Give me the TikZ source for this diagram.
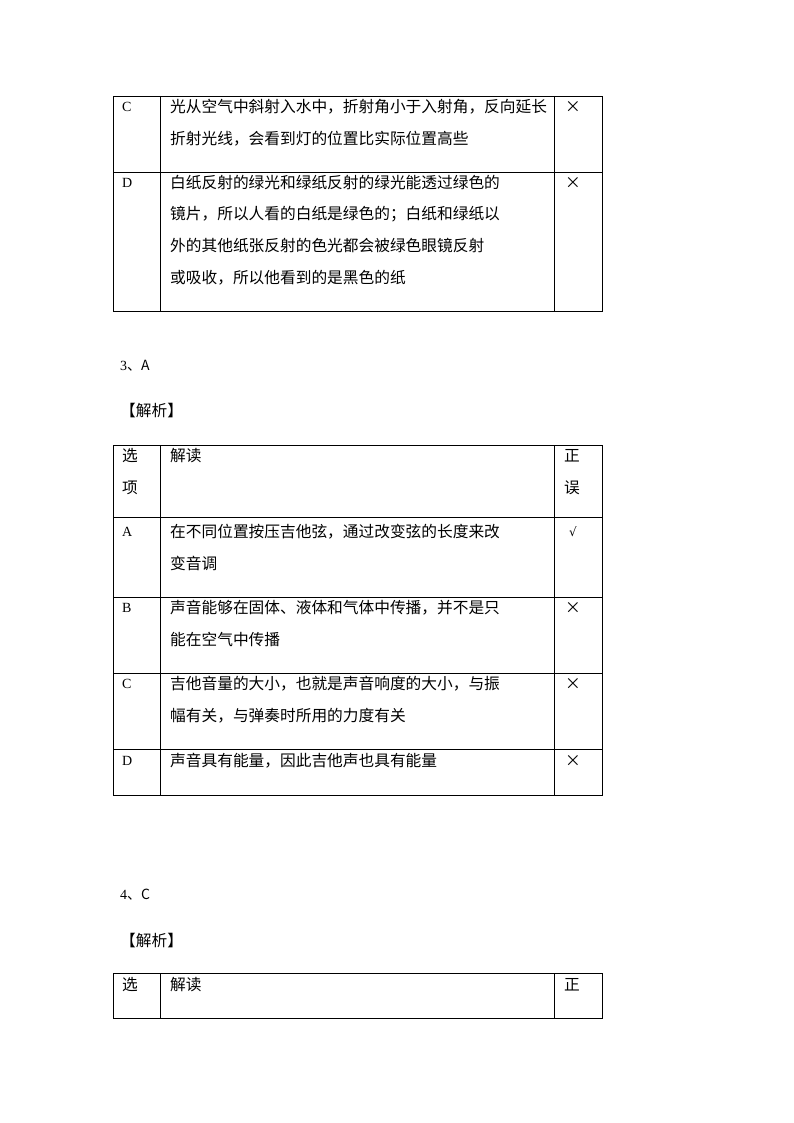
\documentclass[tikz,border=0pt]{standalone}
\usepackage{fontspec}
\setmainfont{Liberation Serif}
\newfontfamily\cjk{Noto Sans CJK SC}
\newfontfamily\dv{DejaVu Sans}
\begin{document}
\begin{tikzpicture}[x=1pt,y=-1pt,
  tl/.style={anchor=west,inner sep=0pt,font=\cjk\fontsize{15.7}{17}\selectfont},
  ll/.style={anchor=west,inner sep=0pt,font=\fontsize{14}{16}\selectfont},
  rule/.style={line width=0.7pt,black}]
\useasboundingbox (0,0) rectangle (794,1123);
% table 1
\draw[rule] (113,96) rectangle (602,311);
\draw[rule] (160,96)--(160,311) (554,96)--(554,311) (113,172)--(602,172);
\node[ll] (c1) at (122,107) {C};
\node[tl] (c1a) at (170,107) {光从空气中斜射入水中，折射角小于入射角，反向延长};
\node[tl] (c1b) at (170,139) {折射光线，会看到灯的位置比实际位置高些};
\node[tl] (c1x) at (565,107) {×};
\node[ll] (d1) at (122,183) {D};
\node[tl] (d1a) at (170,183) {白纸反射的绿光和绿纸反射的绿光能透过绿色的};
\node[tl] (d1b) at (170,214) {镜片，所以人看的白纸是绿色的；白纸和绿纸以};
\node[tl] (d1c) at (170,246) {外的其他纸张反射的色光都会被绿色眼镜反射};
\node[tl] (d1d) at (170,278) {或吸收，所以他看到的是黑色的纸};
\node[tl] (d1x) at (565,183) {×};
% section 3
\node[ll] (s3) at (120,366) {3\cjk{、}A};
\node[tl] (j3) at (120,411) {【解析】};
\draw[rule] (113,445) rectangle (602,795);
\draw[rule] (160,445)--(160,795) (554,445)--(554,795);
\draw[rule] (113,517)--(602,517) (113,597)--(602,597) (113,673)--(602,673) (113,749)--(602,749);
\node[tl] (h1) at (122,456) {选};
\node[tl] (h2) at (122,488) {项};
\node[tl] (h3) at (170,456) {解读};
\node[tl] (h4) at (564,456) {正};
\node[tl] (h5) at (564,488) {误};
\node[ll] (a2) at (122,532) {A};
\node[tl] (a2a) at (170,532) {在不同位置按压吉他弦，通过改变弦的长度来改};
\node[tl] (a2b) at (170,563) {变音调};
\node[anchor=west,inner sep=0pt,font=\dv\fontsize{12}{14}\selectfont] (a2x) at (569,532) {√};
\node[ll] (b2) at (122,608) {B};
\node[tl] (b2a) at (170,608) {声音能够在固体、液体和气体中传播，并不是只};
\node[tl] (b2b) at (170,639) {能在空气中传播};
\node[tl] (b2x) at (565,608) {×};
\node[ll] (c2) at (122,684) {C};
\node[tl] (c2a) at (170,684) {吉他音量的大小，也就是声音响度的大小，与振};
\node[tl] (c2b) at (170,716) {幅有关，与弹奏时所用的力度有关};
\node[tl] (c2x) at (565,684) {×};
\node[ll] (d2) at (122,761) {D};
\node[tl] (d2a) at (170,761) {声音具有能量，因此吉他声也具有能量};
\node[tl] (d2x) at (565,761) {×};
% section 4
\node[ll] (s4) at (120,895) {4\cjk{、}C};
\node[tl] (j4) at (120,941) {【解析】};
\draw[rule] (113,973) rectangle (602,1018);
\draw[rule] (160,973)--(160,1018) (554,973)--(554,1018);
\node[tl] (h6) at (122,985) {选};
\node[tl] (h7) at (170,985) {解读};
\node[tl] (h8) at (564,985) {正};
\end{tikzpicture}
\end{document}
